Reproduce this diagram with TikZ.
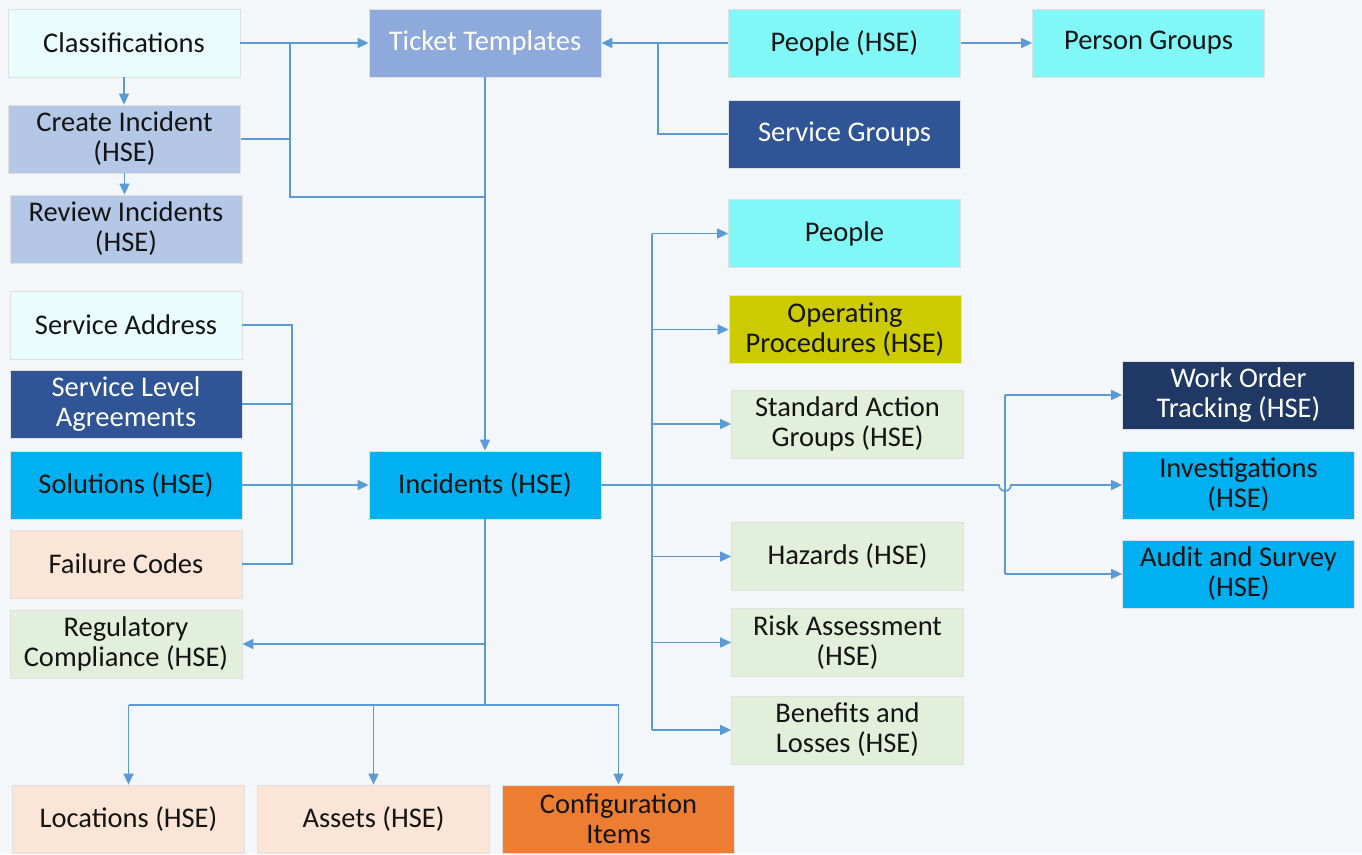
\documentclass[tikz,border=0pt]{standalone}
\usepackage{fontspec}
\setmainfont{Carlito}
\usetikzlibrary{arrows.meta,calc}
\definecolor{bgc}{HTML}{F4F7F9}
\definecolor{lcyan}{HTML}{EAFDFE}
\definecolor{ttc}{HTML}{8EA9DB}
\definecolor{aqua}{HTML}{80F8F8}
\definecolor{lav}{HTML}{B4C7E7}
\definecolor{dblue}{HTML}{2F5597}
\definecolor{olive}{HTML}{CBCB00}
\definecolor{pgreen}{HTML}{E2EFDA}
\definecolor{sky}{HTML}{00B0F0}
\definecolor{peach}{HTML}{FBE5D6}
\definecolor{navy}{HTML}{203864}
\definecolor{orng}{HTML}{ED7D31}
\definecolor{linec}{HTML}{5B9BD5}
\definecolor{txt}{HTML}{141414}
\tikzset{
  box/.style={draw=black!12, line width=0.8pt, minimum width=232pt, minimum height=68pt,
    inner sep=0pt, align=center, text=txt, font=\fontsize{28.5}{30}\selectfont},
  wtext/.style={text=white},
  conn/.style={draw=linec, line width=1.6pt},
  arr/.style={conn, -{Triangle[length=11pt,width=10pt]}},
}
\begin{document}
\begin{tikzpicture}[x=1pt,y=-1pt]
\useasboundingbox (0,0) rectangle (1362,854);
\fill[bgc] (0,0) rectangle (1362,854);
% nodes
\node[box, fill=lcyan] (class) at (124,43) {Classifications};
\node[box, fill=ttc, wtext] (tt) at (485,43) {Ticket Templates};
\node[box, fill=aqua] (phse) at (844.5,43) {People (HSE)};
\node[box, fill=aqua] (pg) at (1148.5,43) {Person Groups};
\node[box, fill=lav] (create) at (124.5,139) {Create Incident\\(HSE)};
\node[box, fill=lav] (review) at (126,229) {Review Incidents\\(HSE)};
\node[box, fill=dblue, wtext] (sg) at (844.5,134) {Service Groups};
\node[box, fill=aqua] (people) at (844.5,233.5) {People};
\node[box, fill=olive] (op) at (845,329.5) {Operating\\Procedures (HSE)};
\node[box, fill=pgreen] (sag) at (847.5,424) {Standard Action\\Groups (HSE)};
\node[box, fill=lcyan] (sa) at (126,325) {Service Address};
\node[box, fill=dblue, wtext] (sla) at (126,404) {Service Level\\Agreements};
\node[box, fill=sky] (sol) at (126,485) {Solutions (HSE)};
\node[box, fill=peach] (fc) at (126,564) {Failure Codes};
\node[box, fill=pgreen] (reg) at (126,644) {Regulatory\\Compliance (HSE)};
\node[box, fill=sky] (inc) at (485,485) {Incidents (HSE)};
\node[box, fill=navy, wtext] (wo) at (1238.5,395) {Work Order\\Tracking (HSE)};
\node[box, fill=sky] (inv) at (1238.5,485) {Investigations\\(HSE)};
\node[box, fill=sky] (aud) at (1238.5,574) {Audit and Survey\\(HSE)};
\node[box, fill=pgreen] (haz) at (847.5,556.5) {Hazards (HSE)};
\node[box, fill=pgreen] (risk) at (847.5,642.5) {Risk Assessment\\(HSE)};
\node[box, fill=pgreen] (ben) at (847.5,730) {Benefits and\\Losses (HSE)};
\node[box, fill=peach] (loc) at (128.5,819) {Locations (HSE)};
\node[box, fill=peach] (ast) at (373.5,819) {Assets (HSE)};
\node[box, fill=orng] (cfg) at (618.5,819) {Configuration\\Items};
% junction coordinates
\coordinate (ja) at (290,43);
\coordinate (jb) at (290,197);
\coordinate (jc) at (658,43);
\coordinate (jd) at (292,325);
\coordinate (jf) at (652,0);
\coordinate (jg) at (1005,0);
\coordinate (jh) at (485,705);
% top-left
\draw[arr] (class.east) -- (tt.west);
\draw[conn] (ja) -- (jb) -- (jb -| tt.south);
\draw[conn] (create.east) -- (create.east -| ja);
\draw[arr] (class.south) -- (class.south |- create.north);
\draw[arr] (create.south) -- (create.south |- review.north);
\draw[arr] (tt.south) -- (inc.north);
% top-right
\draw[arr] (phse.west) -- (tt.east);
\draw[conn] (sg.west) -| (jc);
\draw[arr] (phse.east) -- (pg.west);
% left group
\draw[conn] (sa.east) -- (sa.east -| jd) -- (fc.east -| jd) -- (fc.east);
\draw[conn] (sla.east) -- (sla.east -| jd);
\draw[arr] (sol.east) -- (inc.west);
% right branches
\draw[conn] (people.west -| jf) -- (ben.west -| jf);
\foreach \n in {people,op,sag,haz,risk,ben}{
  \draw[arr] (\n.west -| jf) -- (\n.west);
}
\draw[conn] (wo.west -| jg) -- (aud.west -| jg);
\draw[arr] (wo.west -| jg) -- (wo.west);
\draw[arr] (aud.west -| jg) -- (aud.west);
\draw[arr] (inc.east) -- ($(inc.east -| jg) + (-6,0)$) arc[start angle=180, end angle=0, radius=6] -- (inv.west);
% bottom
\draw[conn] (inc.south) -- (jh);
\draw[arr] (inc.south |- reg.east) -- (reg.east);
\draw[conn] (loc.north |- jh) -- (cfg.north |- jh);
\draw[arr] (loc.north |- jh) -- (loc.north);
\draw[arr] (ast.north |- jh) -- (ast.north);
\draw[arr] (cfg.north |- jh) -- (cfg.north);
\end{tikzpicture}
\end{document}
